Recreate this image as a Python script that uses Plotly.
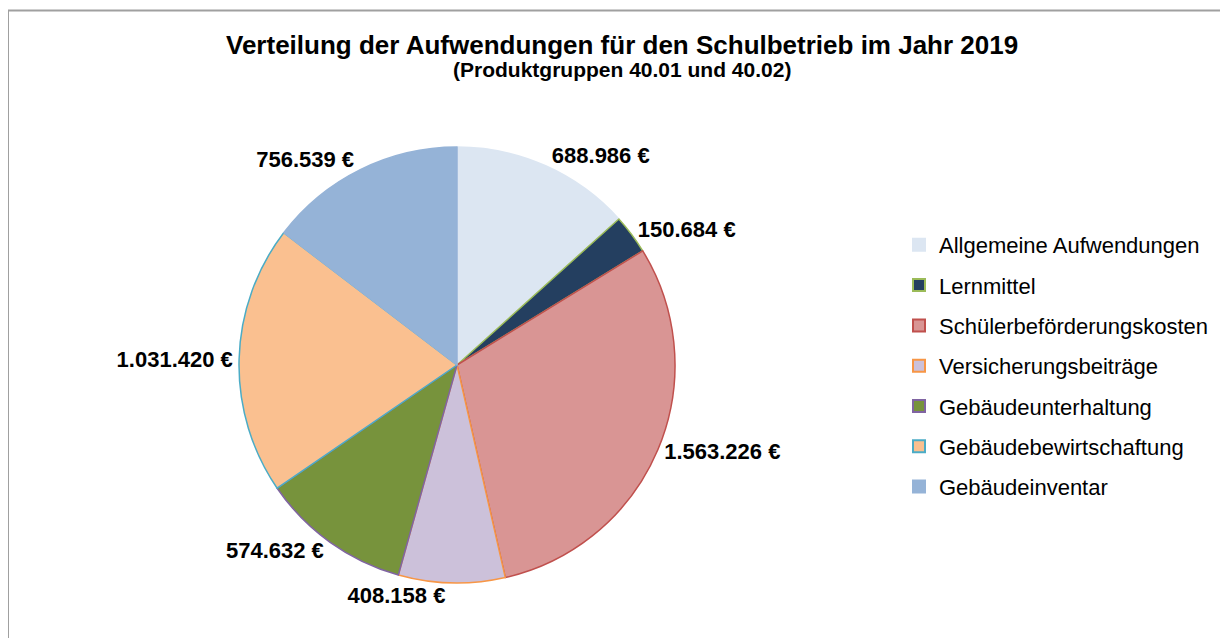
import plotly.graph_objects as go

categories = ["Allgemeine Aufwendungen", "Lernmittel", "Schülerbeförderungskosten",
              "Versicherungsbeiträge", "Gebäudeunterhaltung", "Gebäudebewirtschaftung",
              "Gebäudeinventar"]
values = [688986, 150684, 1563226, 408158, 574632, 1031420, 756539]
fill_colors = ["#DCE6F2", "#243F60", "#D99594", "#CCC1DA", "#77933C", "#FAC090", "#95B3D7"]
border_colors = ["#DCE6F2", "#9BBB59", "#C0504D", "#F79646", "#8064A2", "#4BACC6", "#95B3D7"]
title_text = "Verteilung der Aufwendungen für den Schulbetrieb im Jahr 2019"
subtitle_text = "(Produktgruppen 40.01 und 40.02)"

def fmt(v):
    return "{:,}".format(v).replace(",", ".") + " €"

labels_text = [fmt(v) for v in values]
FONT = "Arial, Liberation Sans, sans-serif"
W, H = 1228, 638

fig = go.Figure()
fig.add_trace(go.Pie(
    labels=categories, values=values, text=labels_text,
    textinfo="text", textposition="outside",
    textfont=dict(family=FONT, size=22, color="#000000"),
    texttemplate="<b>%{text}</b>",
    sort=False, direction="clockwise", rotation=0,
    marker=dict(colors=fill_colors, line=dict(color=border_colors, width=1.5)),
    domain=dict(x=[231/W, 667/W], y=[1-575/H, 1-139/H]),
    showlegend=False, hoverinfo="label+value",
))

for cat, fc, bc in zip(categories, fill_colors, border_colors):
    fig.add_trace(go.Scatter(
        x=[None], y=[None], mode="markers", name=cat, legendgroup=cat,
        marker=dict(symbol="square", size=12, color=fc, line=dict(color=bc, width=2)),
        showlegend=True,
    ))

fig.update_layout(
    width=W, height=H,
    margin=dict(l=0, r=0, t=0, b=0),
    paper_bgcolor="white", plot_bgcolor="white",
    xaxis=dict(visible=False), yaxis=dict(visible=False),
    font=dict(family=FONT, color="#000000"),
    legend=dict(
        x=891/W, xanchor="left", y=1-216/H, yanchor="top",
        font=dict(family=FONT, size=22, color="#000000"),
        tracegroupgap=8.7, itemsizing="constant", itemwidth=30,
        bgcolor="rgba(0,0,0,0)",
    ),
    annotations=[
        dict(text="<b>" + title_text + "</b>", x=0.5, y=1-37/H, xref="paper", yref="paper",
             xanchor="center", yanchor="middle", showarrow=False,
             font=dict(family=FONT, size=26, color="#000000")),
        dict(text="<b>" + subtitle_text + "</b>", x=0.5, y=1-62/H, xref="paper", yref="paper",
             xanchor="center", yanchor="middle", showarrow=False,
             font=dict(family=FONT, size=21, color="#000000")),
    ],
    shapes=[dict(type="rect", xref="paper", yref="paper",
                 x0=0, x1=1.05, y0=-0.05, y1=1-2.5/H,
                 line=dict(color="#A0A0A0", width=2), fillcolor="rgba(0,0,0,0)")],
)

fig.write_html("out.html")
